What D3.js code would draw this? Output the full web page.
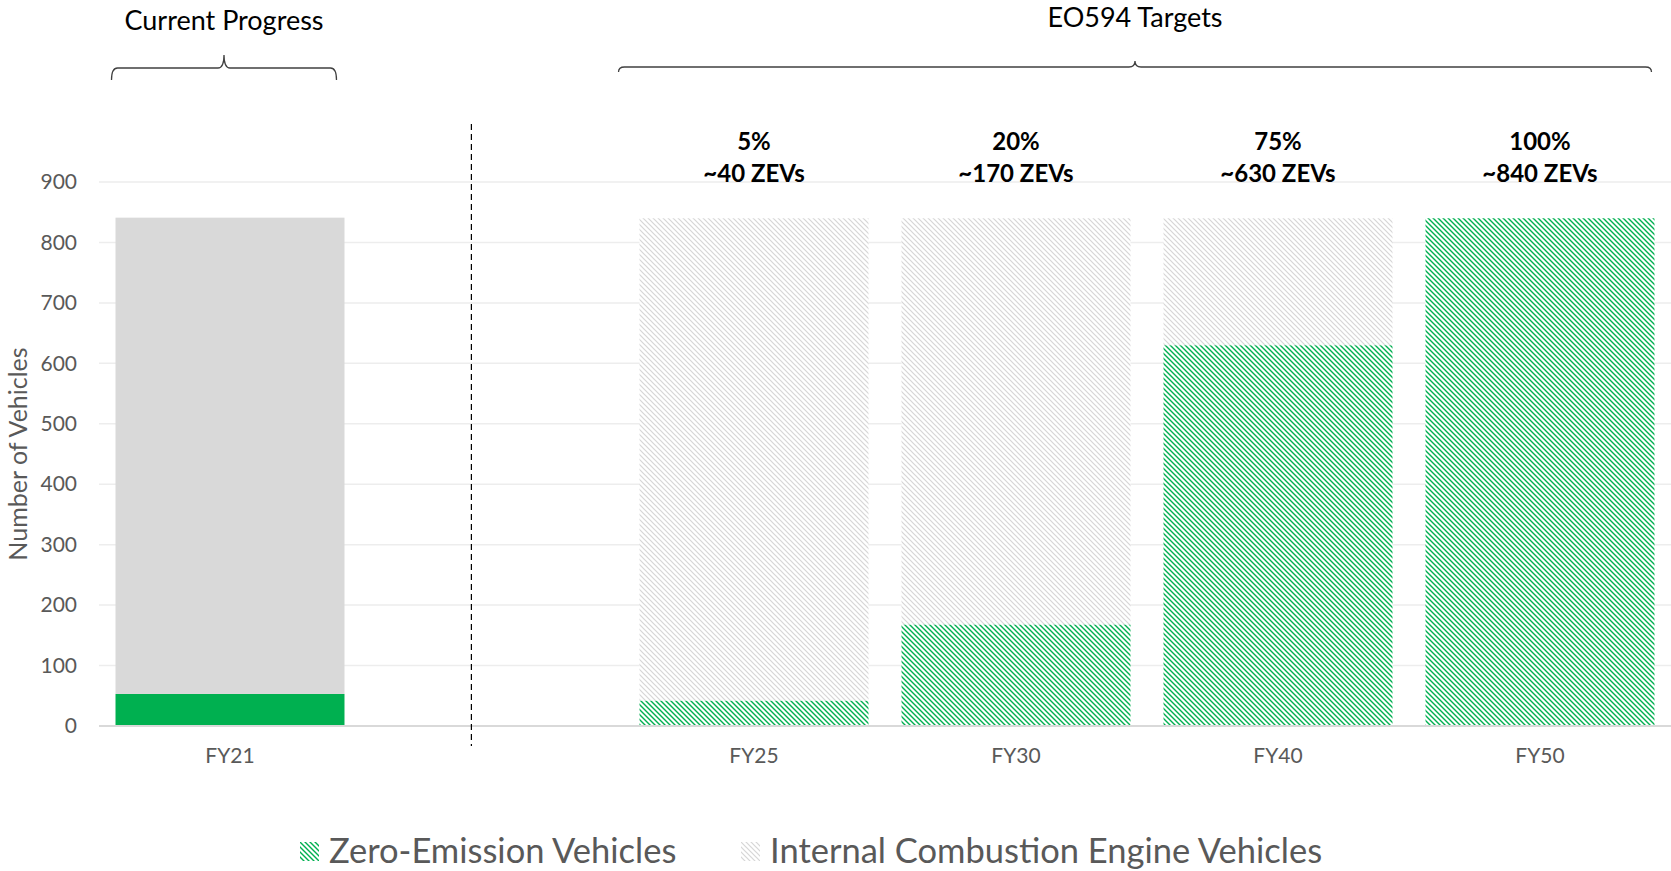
<!DOCTYPE html>
<html>
<head>
<meta charset="utf-8">
<script src="https://cdnjs.cloudflare.com/ajax/libs/d3/7.8.5/d3.min.js"></script>
<style>
  body { margin: 0; background: #fff; }
  text { font-family: Lato, "Open Sans", sans-serif; }
</style>
</head>
<body>
<div id="chart"></div>
<script>
//data
var categories = ["FY21", "gap", "FY25", "FY30", "FY40", "FY50"];
var tickLabels = {"FY21": "FY21", "gap": "", "FY25": "FY25", "FY30": "FY30", "FY40": "FY40", "FY50": "FY50"};
var zevValues = [53, 0, 42, 168, 630, 840];
var iceValues = [788, 0, 798, 672, 210, 0];
var pctLabels = ["", "", "5%", "20%", "75%", "100%"];
var zevLabels = ["", "", "~40 ZEVs", "~170 ZEVs", "~630 ZEVs", "~840 ZEVs"];
var yTicks = [0, 100, 200, 300, 400, 500, 600, 700, 800, 900];
var seriesNames = ["Zero-Emission Vehicles", "Internal Combustion Engine Vehicles"];

var width = 1671, height = 871;
var margin = {top: 182, right: 0, bottom: 145, left: 99};

var svg = d3.select("#chart").append("svg")
            .attr("width", width)
            .attr("height", height);

//hatch patterns
var defs = svg.append("defs");
function hatch(id, color, w) {
  var p = defs.append("pattern")
              .attr("id", id)
              .attr("patternUnits", "userSpaceOnUse")
              .attr("width", 5)
              .attr("height", 5);
  p.append("rect").attr("width", 5).attr("height", 5).attr("fill", "#fff");
  p.append("path")
    .attr("d", "M-1,-1 L6,6 M-1,4 L1,6 M4,-1 L6,1")
    .attr("stroke", color)
    .attr("stroke-width", w);
}
hatch("zevHatch", "#00B050", 1.4);
hatch("iceHatch", "#D6D6D6", 1.2);

var x = d3.scaleBand()
          .domain(categories)
          .range([margin.left, width - margin.right])
          .paddingInner(0.126)
          .paddingOuter(0.063);

var y = d3.scaleLinear()
          .domain([0, 900])
          .range([height - margin.bottom, margin.top]);

//gridlines
svg.append("g").selectAll("line")
  .data(yTicks.filter(d => d > 0))
  .enter().append("line")
  .attr("x1", margin.left)
  .attr("x2", width)
  .attr("y1", d => y(d))
  .attr("y2", d => y(d))
  .attr("stroke", "#EDEDED")
  .attr("stroke-width", 1.5);

//y axis
var yAxis = svg.append("g")
               .attr("transform", "translate(" + (margin.left - 22) + ",0)")
               .call(d3.axisLeft(y).tickValues(yTicks).tickSize(0).tickPadding(0));
yAxis.select(".domain").remove();
yAxis.selectAll("text")
  .attr("fill", "#595959")
  .style("font-size", "21px");

//stacked bars
var stackData = categories.map(function(c, i) {
  return {cat: c, zev: zevValues[i], ice: iceValues[i], i: i};
});
var stack = d3.stack().keys(["zev", "ice"])(stackData);

var layers = svg.append("g").selectAll("g")
                .data(stack)
                .enter().append("g");

layers.selectAll("rect")
  .data(function(d) { return d.map(function(v) { v.key = d.key; return v; }); })
  .enter().append("rect")
  .attr("x", d => x(d.data.cat))
  .attr("width", x.bandwidth())
  .attr("y", d => y(d[1]))
  .attr("height", d => y(d[0]) - y(d[1]))
  .attr("fill", function(d) {
    if (d.data.cat == "FY21") return d.key == "zev" ? "#00B050" : "#D9D9D9";
    return d.key == "zev" ? "url(#zevHatch)" : "url(#iceHatch)";
  });

//zero line
svg.append("line")
  .attr("x1", margin.left)
  .attr("x2", width)
  .attr("y1", y(0))
  .attr("y2", y(0))
  .attr("stroke", "#D9D9D9")
  .attr("stroke-width", 2);

//x axis labels
var xAxis = svg.append("g")
               .attr("transform", "translate(0," + (y(0) + 22) + ")")
               .call(d3.axisBottom(x).tickFormat(d => tickLabels[d]).tickSize(0).tickPadding(0));
xAxis.select(".domain").remove();
xAxis.selectAll("text")
  .attr("fill", "#595959")
  .style("font-size", "21px");

//target labels above bars
var lbl = svg.append("g").selectAll("g")
             .data(stackData.filter(d => pctLabels[d.i] != ""))
             .enter().append("g");
lbl.append("text")
  .attr("x", d => x(d.cat) + x.bandwidth() / 2)
  .attr("y", 150)
  .attr("text-anchor", "middle")
  .style("font-size", "24px")
  .style("font-weight", "bold")
  .text(d => pctLabels[d.i]);
lbl.append("text")
  .attr("x", d => x(d.cat) + x.bandwidth() / 2)
  .attr("y", 182)
  .attr("text-anchor", "middle")
  .style("font-size", "24px")
  .style("font-weight", "bold")
  .text(d => zevLabels[d.i]);

//dashed divider
svg.append("line")
  .attr("x1", x("gap") + x.bandwidth() * 0.41)
  .attr("x2", x("gap") + x.bandwidth() * 0.41)
  .attr("y1", 124)
  .attr("y2", 746)
  .attr("stroke", "#000")
  .attr("stroke-width", 1.2)
  .attr("stroke-dasharray", "6,4");

//braces
function brace(x0, x1, yl, drop, rise) {
  var xm = (x0 + x1) / 2;
  return "M" + x0 + "," + (yl + drop) + " Q" + x0 + "," + yl + " " + (x0 + 6) + "," + yl +
         " L" + (xm - 6) + "," + yl + " Q" + xm + "," + yl + " " + xm + "," + (yl - rise) +
         " Q" + xm + "," + yl + " " + (xm + 6) + "," + yl +
         " L" + (x1 - 6) + "," + yl + " Q" + x1 + "," + yl + " " + x1 + "," + (yl + drop);
}
svg.append("path")
  .attr("d", brace(x("FY21") - 4, x("FY21") + x.bandwidth() - 8, 68, 12, 13))
  .attr("fill", "none")
  .attr("stroke", "#404040")
  .attr("stroke-width", 1.3);
svg.append("path")
  .attr("d", brace(x("FY25") - 21, x("FY50") + x.bandwidth() - 3, 67, 5, 6))
  .attr("fill", "none")
  .attr("stroke", "#404040")
  .attr("stroke-width", 1.3);

svg.append("text")
  .attr("x", x("FY21") - 4 + (x.bandwidth() - 4) / 2)
  .attr("y", 30)
  .attr("text-anchor", "middle")
  .style("font-size", "27px")
  .text("Current Progress");
svg.append("text")
  .attr("x", (x("FY25") - 21 + x("FY50") + x.bandwidth() - 3) / 2)
  .attr("y", 27)
  .attr("text-anchor", "middle")
  .style("font-size", "27px")
  .text("EO594 Targets");

//y axis title
svg.append("text")
  .attr("transform", "translate(27," + y(450) + ") rotate(-90)")
  .attr("text-anchor", "middle")
  .attr("fill", "#595959")
  .style("font-size", "25px")
  .text("Number of Vehicles");

//legend
var legendX = [300, 741];
var legend = svg.append("g").selectAll("g")
                .data(seriesNames)
                .enter().append("g")
                .attr("transform", (d, i) => "translate(" + legendX[i] + ",842)");
legend.append("rect")
  .attr("width", 19)
  .attr("height", 19)
  .attr("fill", (d, i) => i == 0 ? "url(#zevHatch)" : "url(#iceHatch)");
legend.append("text")
  .attr("x", 29)
  .attr("y", 21)
  .attr("fill", "#595959")
  .style("font-size", "34.5px")
  .text(d => d);
</script>
</body>
</html>
